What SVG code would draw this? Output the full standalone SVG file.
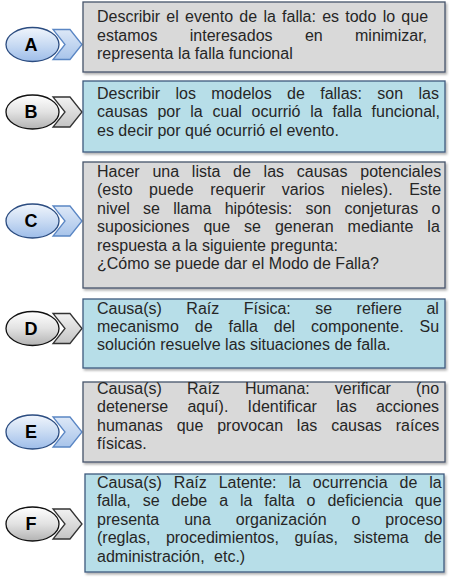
<svg xmlns="http://www.w3.org/2000/svg" width="449" height="584" viewBox="0 0 449 584">
<defs>
<linearGradient id="gBlueEll" x1="0" y1="0" x2="0" y2="1">
<stop offset="0" stop-color="#f0f5fc"/><stop offset="0.5" stop-color="#c9dbf3"/><stop offset="1" stop-color="#9ebde9"/>
</linearGradient>
<linearGradient id="gGrayEll" x1="0" y1="0" x2="0" y2="1">
<stop offset="0" stop-color="#ffffff"/><stop offset="0.5" stop-color="#e2e2e2"/><stop offset="1" stop-color="#b3b3b3"/>
</linearGradient>
<linearGradient id="gBlueChev" x1="0" y1="0" x2="0" y2="1">
<stop offset="0" stop-color="#dde8f7"/><stop offset="1" stop-color="#a8c4ea"/>
</linearGradient>
<linearGradient id="gGrayChev" x1="0" y1="0" x2="0" y2="1">
<stop offset="0" stop-color="#f2f2f2"/><stop offset="1" stop-color="#c4c4c4"/>
</linearGradient>
<filter id="shadow" x="-5%" y="-5%" width="110%" height="120%">
<feDropShadow dx="1.5" dy="2" stdDeviation="1.2" flood-color="#000" flood-opacity="0.3"/>
</filter>
<path id="chev" d="M0,-15 L17,-15 L29,0 L17,15 L0,15 L12,0 Z"/>
</defs>
<style>
.boxg{fill:#d9d9d9;stroke:#46546a;stroke-width:1.3;filter:url(#shadow)}
.boxb{fill:#b7dee8;stroke:#3e5a7e;stroke-width:1.3;filter:url(#shadow)}
.ellb{fill:url(#gBlueEll);stroke:#2b4c80;stroke-width:1.3}
.ellg{fill:url(#gGrayEll);stroke:#111;stroke-width:1.3}
.chevb{fill:url(#gBlueChev);stroke:#5a86c4;stroke-width:1.3}
.chevg{fill:url(#gGrayChev);stroke:#333;stroke-width:1.3}
.lbl{font-family:"Liberation Sans",Arial,sans-serif;font-size:18px;font-weight:bold;fill:#000;text-anchor:middle}
.t{font-family:"Liberation Sans",Arial,sans-serif;font-size:16px;fill:#262626}
</style>

<g id="connectors">
<use href="#chev" class="chevb" x="53" y="44.5"/>
<use href="#chev" class="chevg" x="53" y="112"/>
<use href="#chev" class="chevb" x="53" y="221"/>
<use href="#chev" class="chevg" x="53" y="328.5"/>
<use href="#chev" class="chevb" x="53" y="432"/>
<use href="#chev" class="chevg" x="53" y="524"/>
</g>

<g id="node-A">
<ellipse class="ellb" cx="32.5" cy="44.5" rx="26.5" ry="17"/>
<text class="lbl" x="31" y="50.9">A</text>
<rect class="boxg" x="83" y="2" width="362" height="70"/>
<text class="t" x="97" y="22.3" word-spacing="1.8">Describir el evento de la falla: es todo lo que</text>
<text class="t" x="97" y="40.7" word-spacing="27.9">estamos interesados en minimizar,</text>
<text class="t" x="97" y="59.1">representa la falla funcional</text>
</g>

<g id="node-B">
<ellipse class="ellg" cx="32.5" cy="112" rx="26.5" ry="17"/>
<text class="lbl" x="31" y="118.4">B</text>
<rect class="boxb" x="83" y="81" width="362" height="71"/>
<text class="t" x="97" y="98.8" word-spacing="10.9">Describir los modelos de fallas: son las</text>
<text class="t" x="97" y="117.2" word-spacing="5.3">causas por la cual ocurrió la falla funcional,</text>
<text class="t" x="97" y="135.6">es decir por qué ocurrió el evento.</text>
</g>

<g id="node-C">
<ellipse class="ellb" cx="32.5" cy="221" rx="26.5" ry="17"/>
<text class="lbl" x="31" y="227.4">C</text>
<rect class="boxg" x="83" y="162" width="362" height="126"/>
<text class="t" x="97" y="177" word-spacing="8.3">Hacer una lista de las causas potenciales</text>
<text class="t" x="97" y="195.4" word-spacing="12.1">(esto puede requerir varios nieles). Este</text>
<text class="t" x="97" y="213.8" word-spacing="8.75">nivel se llama hipótesis: son conjeturas o</text>
<text class="t" x="97" y="232.2" word-spacing="9.5">suposiciones que se generan mediante la</text>
<text class="t" x="97" y="250.6">respuesta a la siguiente pregunta:</text>
<text class="t" x="97" y="269">¿Cómo se puede dar el Modo de Falla?</text>
</g>

<g id="node-D">
<ellipse class="ellg" cx="32.5" cy="328.5" rx="26.5" ry="17"/>
<text class="lbl" x="31" y="334.9">D</text>
<rect class="boxb" x="83" y="299" width="362" height="69"/>
<text class="t" x="97" y="313.5" word-spacing="20">Causa(s) Raíz Física: se refiere al</text>
<text class="t" x="97" y="331.9" word-spacing="11.5">mecanismo de falla del componente. Su</text>
<text class="t" x="97" y="350.3">solución resuelve las situaciones de falla.</text>
</g>

<g id="node-E">
<ellipse class="ellb" cx="32.5" cy="432" rx="26.5" ry="17"/>
<text class="lbl" x="31" y="438.4">E</text>
<rect class="boxg" x="83" y="382" width="362" height="80"/>
<text class="t" x="97" y="394" word-spacing="20.6">Causa(s) Raíz Humana: verificar (no</text>
<text class="t" x="97" y="412.4" word-spacing="14.8">detenerse aquí). Identificar las acciones</text>
<text class="t" x="97" y="430.8" word-spacing="9.4">humanas que provocan las causas raíces</text>
<text class="t" x="97" y="449.2">físicas.</text>
</g>

<g id="node-F">
<ellipse class="ellg" cx="32.5" cy="524" rx="26.5" ry="17"/>
<text class="lbl" x="31" y="530.4">F</text>
<rect class="boxb" x="85" y="474" width="359" height="98"/>
<text class="t" x="97" y="488" word-spacing="7.5">Causa(s) Raíz Latente: la ocurrencia de la</text>
<text class="t" x="97" y="506.4" word-spacing="7.5">falla, se debe a la falta o deficiencia que</text>
<text class="t" x="97" y="524.8" word-spacing="20.5">presenta una organización o proceso</text>
<text class="t" x="97" y="543.2" word-spacing="11.1">(reglas, procedimientos, guías, sistema de</text>
<text class="t" x="97" y="561.6" word-spacing="5">administración, etc.)</text>
</g>
</svg>
